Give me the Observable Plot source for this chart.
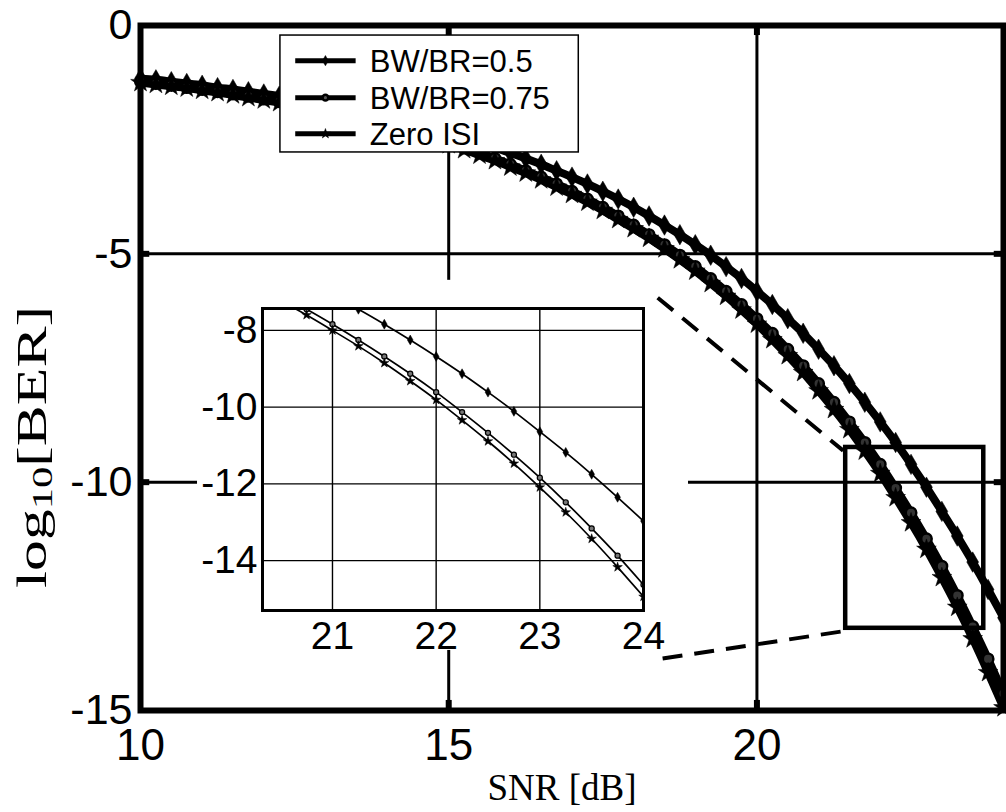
<!DOCTYPE html>
<html>
<head>
<meta charset="utf-8">
<script src="https://cdn.jsdelivr.net/npm/d3@7"></script>
<script src="https://cdn.jsdelivr.net/npm/@observablehq/plot@0.6"></script>
<style>
  html, body { margin: 0; padding: 0; background: #fff; }
  #wrap { position: relative; width: 1006px; height: 812px; overflow: hidden; background: #fff; }
  #main { position: absolute; left: 0; top: 0; }
  #inset { position: absolute; left: 197px; top: 280px; }
</style>
</head>
<body>
<div id="wrap"><div id="main"></div><div id="inset"></div></div>
<script>
// ---------------- data ----------------
const snr = [10, 10.25, 10.5, 10.75, 11, 11.25, 11.5, 11.75, 12, 12.25, 12.5, 12.75,
  13, 13.25, 13.5, 13.75, 14, 14.25, 14.5, 14.75, 15, 15.25, 15.5, 15.75,
  16, 16.25, 16.5, 16.75, 17, 17.25, 17.5, 17.75, 18, 18.25, 18.5, 18.75,
  19, 19.25, 19.5, 19.75, 20, 20.25, 20.5, 20.75, 21, 21.25, 21.5, 21.75,
  22, 22.25, 22.5, 22.75, 23, 23.25, 23.5, 23.75, 24];

// BW/BR = 0.5
const berHalf = [-1.16, -1.19, -1.23, -1.27, -1.31, -1.36, -1.40, -1.45, -1.50, -1.55, -1.61, -1.67,
  -1.73, -1.80, -1.87, -1.94, -2.02, -2.10, -2.18, -2.27, -2.36, -2.46, -2.57, -2.68,
  -2.79, -2.91, -3.04, -3.18, -3.32, -3.47, -3.63, -3.80, -3.98, -4.17, -4.37, -4.58,
  -4.80, -5.03, -5.28, -5.54, -5.82, -6.11, -6.42, -6.74, -7.09, -7.45, -7.84, -8.25,
  -8.68, -9.13, -9.61, -10.11, -10.64, -11.18, -11.75, -12.35, -12.97];

// BW/BR = 0.75
const berThreeQuarter = [-1.23, -1.27, -1.31, -1.36, -1.40, -1.45, -1.50, -1.55, -1.61, -1.67, -1.73, -1.80,
  -1.87, -1.94, -2.02, -2.10, -2.18, -2.27, -2.36, -2.46, -2.57, -2.68, -2.79, -2.91,
  -3.04, -3.18, -3.32, -3.47, -3.63, -3.80, -3.98, -4.17, -4.37, -4.58, -4.80, -5.03,
  -5.28, -5.54, -5.82, -6.11, -6.42, -6.74, -7.09, -7.45, -7.84, -8.25, -8.68, -9.13,
  -9.61, -10.13, -10.67, -11.24, -11.84, -12.48, -13.16, -13.87, -14.63];

// Zero ISI
const berZeroISI = [-1.25, -1.29, -1.33, -1.37, -1.42, -1.47, -1.52, -1.58, -1.63, -1.69, -1.76, -1.82,
  -1.89, -1.97, -2.05, -2.13, -2.21, -2.31, -2.40, -2.50, -2.61, -2.72, -2.84, -2.96,
  -3.10, -3.23, -3.38, -3.54, -3.70, -3.87, -4.05, -4.25, -4.45, -4.66, -4.89, -5.13,
  -5.38, -5.65, -5.93, -6.23, -6.54, -6.88, -7.23, -7.60, -8.00, -8.41, -8.85, -9.32,
  -9.81, -10.34, -10.89, -11.47, -12.09, -12.74, -13.43, -14.17, -14.94];

const seriesNames = ["BW/BR=0.5", "BW/BR=0.75", "Zero ISI"];
const seriesSymbols = ["diamond", "circle", "star"];

const xTicks = [10, 15, 20];
const yTicks = [0, -5, -10, -15];
const insetXTicks = [21, 22, 23, 24];
const insetYTicks = [-8, -10, -12, -14];

const xLabel = "SNR [dB]";
const yLabelParts = ["log", "10", "[BER]"];

// ---------------- build ----------------
const seriesValues = [berHalf, berThreeQuarter, berZeroISI];
const rows = snr.flatMap((x, i) => seriesValues.map((vals, k) => ({snr: x, ber: vals[i], series: seriesNames[k]})));
const bySeries = name => rows.filter(d => d.series === name);

const fmt = d => String(d);
const FONT = "'Liberation Sans', Arial, Helvetica, sans-serif";

function seriesDots(r, circleFill, extra = {}) {
  return seriesNames.map((name, k) => {
    const isCircle = seriesSymbols[k] === "circle";
    return Plot.dot(bySeries(name), {
      x: "snr", y: "ber", symbol: () => seriesSymbols[k],
      r: isCircle ? r * 0.85 : r,
      fill: isCircle ? circleFill : "black",
      stroke: "black", strokeWidth: isCircle ? r * 0.4 : 0.5,
      ...extra
    });
  });
}

// annotation geometry (data units of the main chart)
const insetBg = {x1: 10.925, x2: 18.89, y1: -5.58, y2: -13.685};
const zoomBox = {x1: 21.44, x2: 23.68, y1: -9.24, y2: -13.20};
const connectors = [
  {x1: 18.39, y1: -5.96, x2: 21.40, y2: -9.31},
  {x1: 18.47, y1: -13.86, x2: 21.47, y2: -13.25}
];
const legendBox = {x1: 12.27, x2: 17.11, y1: -0.22, y2: -2.78};
const legendRowY = [-0.77, -1.58, -2.37];
const legendRows = seriesNames.map((name, k) => ({label: name, symbol: seriesSymbols[k], y: legendRowY[k]}));

const main = Plot.plot({
  width: 1006, height: 812,
  marginLeft: 140, marginRight: 3, marginTop: 25, marginBottom: 102,
  x: {domain: [10, 24]},
  y: {domain: [-15, 0]},
  style: {fontFamily: FONT, background: "white", color: "black", overflow: "visible"},
  marks: [
    Plot.ruleX(xTicks.filter(t => t > 10), {stroke: "black", strokeWidth: 3}),
    Plot.ruleY(yTicks.filter(t => t < 0 && t > -15), {stroke: "black", strokeWidth: 3}),
    Plot.ruleX(xTicks.filter(t => t > 10), {y1: -15, y2: -14.78, stroke: "black", strokeWidth: 6}),
    Plot.ruleX(xTicks.filter(t => t > 10), {y1: 0, y2: -0.22, stroke: "black", strokeWidth: 6}),
    Plot.ruleY(yTicks.filter(t => t < 0 && t > -15), {x1: 10, x2: 10.15, stroke: "black", strokeWidth: 6}),
    Plot.ruleY(yTicks.filter(t => t < 0 && t > -15), {x1: 23.85, x2: 24, stroke: "black", strokeWidth: 6}),
    Plot.rect([insetBg], {x1: "x1", x2: "x2", y1: "y1", y2: "y2", fill: "white"}),
    Plot.line(rows, {x: "snr", y: "ber", z: "series", stroke: "black", strokeWidth: 8, curve: "natural"}),
    ...seriesDots(6.2, "#333"),
    Plot.rect([zoomBox], {x1: "x1", x2: "x2", y1: "y1", y2: "y2", fill: "none", stroke: "black", strokeWidth: 4.5}),
    Plot.link(connectors, {x1: "x1", y1: "y1", x2: "x2", y2: "y2", stroke: "black", strokeWidth: 4, strokeDasharray: "20,12"}),
    // legend
    Plot.rect([legendBox], {x1: "x1", x2: "x2", y1: "y1", y2: "y2", fill: "white", stroke: "black", strokeWidth: 1.5}),
    Plot.link(legendRows, {x1: () => 12.51, x2: () => 13.49, y1: "y", y2: "y", stroke: "black", strokeWidth: 5}),
    Plot.dot(legendRows, {x: () => 13.0, y: "y", symbol: "symbol",
      r: d => d.symbol === "circle" ? 5.5 : 6.5,
      fill: d => d.symbol === "circle" ? "#555" : "black",
      stroke: "black", strokeWidth: d => d.symbol === "circle" ? 2.6 : 0.5}),
    Plot.text(legendRows, {x: () => 13.72, y: "y", text: "label", textAnchor: "start", fontSize: 31, fill: "black", dy: 1}),
    Plot.frame({stroke: "black", strokeWidth: 6}),
    Plot.axisX(xTicks, {anchor: "bottom", tickSize: 0, tickPadding: 18, fontSize: 44, tickFormat: fmt, label: null}),
    Plot.axisY(yTicks, {anchor: "left", tickSize: 0, tickPadding: 8, fontSize: 43, tickFormat: fmt, label: null})
  ]
});
document.getElementById("main").appendChild(main);

// axis titles
const svg = d3.select(main);
svg.append("text")
  .attr("x", 562).attr("y", 800)
  .attr("text-anchor", "middle")
  .attr("font-family", "'Liberation Serif', 'Times New Roman', serif")
  .attr("font-size", 37).attr("fill", "black")
  .text(xLabel);
const yl = svg.append("text")
  .attr("transform", "translate(46,447) rotate(-90)")
  .attr("text-anchor", "middle")
  .attr("font-family", "'Liberation Serif', 'Times New Roman', serif")
  .attr("font-size", 42).attr("fill", "black")
  .attr("textLength", 282).attr("lengthAdjust", "spacingAndGlyphs");
yl.append("tspan").text(yLabelParts[0]);
yl.append("tspan").attr("font-size", 29).attr("dy", 6).text(yLabelParts[1]);
yl.append("tspan").attr("dy", -6).text(yLabelParts[2]);

// ---------------- inset ----------------
const inset = Plot.plot({
  width: 491, height: 370,
  marginLeft: 65, marginRight: 45, marginTop: 28, marginBottom: 40,
  x: {domain: [20.325, 24]},
  y: {domain: [-15.3, -7.43]},
  style: {fontFamily: FONT, background: "transparent", color: "black", overflow: "visible"},
  marks: [
    Plot.ruleX(insetXTicks.filter(t => t < 24), {stroke: "black", strokeWidth: 1.4}),
    Plot.ruleY(insetYTicks, {stroke: "black", strokeWidth: 1.4}),
    Plot.line(rows, {x: "snr", y: "ber", z: "series", stroke: "black", strokeWidth: 1.7, curve: "natural", clip: true}),
    ...seriesDots(3.0, "#777", {clip: true}),
    Plot.frame({stroke: "black", strokeWidth: 3}),
    Plot.axisX(insetXTicks, {anchor: "bottom", tickSize: 0, tickPadding: 11, fontSize: 39, tickFormat: fmt, label: null}),
    Plot.axisY(insetYTicks, {anchor: "left", tickSize: 0, tickPadding: 5, fontSize: 39, tickFormat: fmt, label: null})
  ]
});
document.getElementById("inset").appendChild(inset);
</script>
</body>
</html>
